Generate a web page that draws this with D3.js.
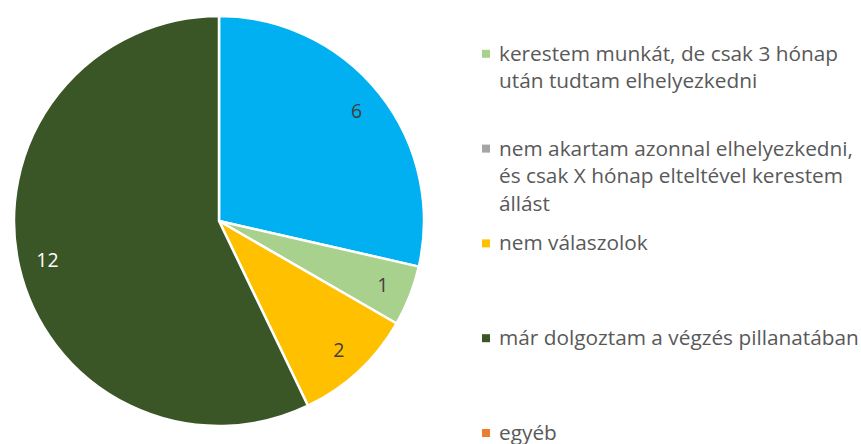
<!DOCTYPE html>
<html>
<head>
<meta charset="utf-8">
<script src="https://cdn.jsdelivr.net/npm/d3@7"></script>
<style>
  body { margin: 0; background: #fff; }
  svg { display: block; font-family: "Open Sans", sans-serif; }
</style>
</head>
<body>
<svg></svg>
<script>
const svgWidth = 861;
const svgHeight = 444;

// categories in pie order; the first legend entry sits above the visible area
const categories = [
  "",
  "kerestem munkát, de csak 3 hónap után tudtam elhelyezkedni",
  "nem akartam azonnal elhelyezkedni, és csak X hónap elteltével kerestem állást",
  "nem válaszolok",
  "már dolgoztam a végzés pillanatában",
  "egyéb"
];
const legendLines = [
  [""],
  ["kerestem munkát, de csak 3 hónap", "után tudtam elhelyezkedni"],
  ["nem akartam azonnal elhelyezkedni,", "és csak X hónap elteltével kerestem", "állást"],
  ["nem válaszolok"],
  ["már dolgoztam a végzés pillanatában"],
  ["egyéb"]
];
const values = [6, 1, 0, 2, 12, 0];
const colors = ["#00B0F0", "#A9D18E", "#A5A5A5", "#FFC000", "#3A5626", "#ED7D31"];
const labelColors = ["#404040", "#404040", "#404040", "#404040", "#ffffff", "#404040"];

const svg = d3.select("svg")
  .attr("width", svgWidth)
  .attr("height", svgHeight);

const cx = 219, cy = 221, radius = 205;

const pie = d3.pie().sort(null).value(d => d.value);
const data = categories.map((c, i) => ({name: c, value: values[i], i: i}));
const arcs = pie(data);

const arc = d3.arc().innerRadius(0).outerRadius(radius);
const labelArc = d3.arc().innerRadius(176).outerRadius(176);

const g = svg.append("g").attr("transform", `translate(${cx},${cy})`);

g.selectAll("path")
  .data(arcs.filter(d => d.data.value > 0))
  .join("path")
  .attr("d", arc)
  .attr("fill", d => colors[d.data.i])
  .attr("stroke", "#fff")
  .attr("stroke-width", 2.5)
  .attr("stroke-linejoin", "round");

g.selectAll("text")
  .data(arcs.filter(d => d.data.value > 0))
  .join("text")
  .attr("transform", d => `translate(${labelArc.centroid(d)})`)
  .attr("text-anchor", "middle")
  .attr("dy", "0.36em")
  .attr("font-size", 19.5)
  .attr("fill", d => labelColors[d.data.i])
  .text(d => d.data.value);

// legend
const legendY = d3.scalePoint().domain(d3.range(categories.length)).range([-34, 440]);
const legend = svg.append("g");

const item = legend.selectAll("g")
  .data(data)
  .join("g")
  .attr("transform", d => `translate(0,${legendY(d.i)})`);

item.append("rect")
  .attr("x", 482)
  .attr("y", -11)
  .attr("width", 8)
  .attr("height", 8)
  .attr("fill", d => colors[d.i]);

item.append("text")
  .attr("x", 499)
  .attr("font-size", 20.8)
  .attr("fill", "#595959")
  .selectAll("tspan")
  .data(d => legendLines[d.i])
  .join("tspan")
  .attr("x", 499)
  .attr("dy", (d, j) => j === 0 ? 0 : 27.5)
  .text(d => d);
</script>
</body>
</html>
